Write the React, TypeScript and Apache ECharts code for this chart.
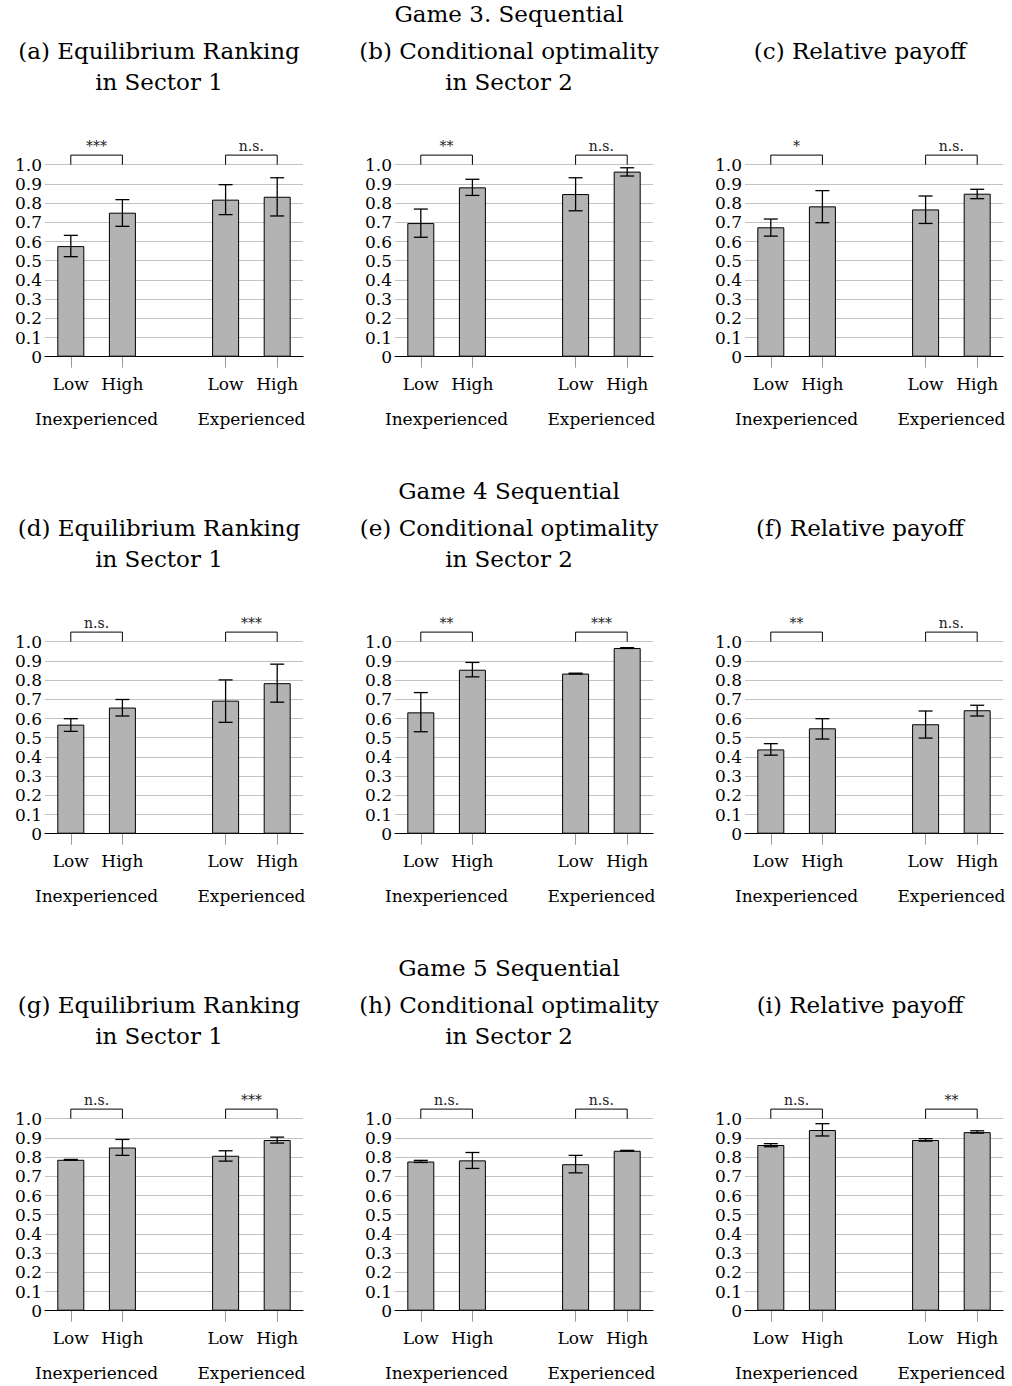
import React, { useEffect, useRef } from 'react';
import * as echarts from 'echarts';

// ---------- data ----------
const categories = ['Low', 'High', '', 'Low', 'High'];
const barSlots = [0, 1, 3, 4];
const groupLabels = ['Inexperienced', 'Experienced'];
const groupSpans = [[0, 1], [3, 4]];

const gameTitles = ['Game 3. Sequential', 'Game 4 Sequential', 'Game 5 Sequential'];
const panelTitleLine1 = [
  '(a) Equilibrium Ranking', '(b) Conditional optimality', '(c) Relative payoff',
  '(d) Equilibrium Ranking', '(e) Conditional optimality', '(f) Relative payoff',
  '(g) Equilibrium Ranking', '(h) Conditional optimality', '(i) Relative payoff',
];
const panelTitleLine2 = [
  'in Sector 1', 'in Sector 2', '',
  'in Sector 1', 'in Sector 2', '',
  'in Sector 1', 'in Sector 2', '',
];

// order: Low/Inexp, High/Inexp, Low/Exp, High/Exp
const meanA = [0.576, 0.750, 0.818, 0.833];
const loA = [0.521, 0.679, 0.740, 0.733];
const hiA = [0.632, 0.818, 0.896, 0.932];
const sigA = ['***', 'n.s.'];

const meanB = [0.696, 0.882, 0.847, 0.964];
const loB = [0.622, 0.840, 0.760, 0.941];
const hiB = [0.769, 0.924, 0.932, 0.984];
const sigB = ['**', 'n.s.'];

const meanC = [0.674, 0.783, 0.767, 0.849];
const loC = [0.628, 0.698, 0.694, 0.823];
const hiC = [0.717, 0.865, 0.837, 0.872];
const sigC = ['*', 'n.s.'];

const meanD = [0.568, 0.657, 0.693, 0.784];
const loD = [0.533, 0.613, 0.580, 0.685];
const hiD = [0.599, 0.699, 0.801, 0.883];
const sigD = ['n.s.', '***'];

const meanE = [0.632, 0.854, 0.834, 0.967];
const loE = [0.531, 0.817, 0.832, 0.965];
const hiE = [0.735, 0.892, 0.836, 0.969];
const sigE = ['**', '***'];

const meanF = [0.439, 0.549, 0.570, 0.643];
const loF = [0.409, 0.493, 0.498, 0.613];
const hiF = [0.469, 0.599, 0.639, 0.669];
const sigF = ['**', 'n.s.'];

const meanG = [0.786, 0.850, 0.807, 0.889];
const loG = [0.784, 0.809, 0.779, 0.873];
const hiG = [0.788, 0.892, 0.833, 0.904];
const sigG = ['n.s.', '***'];

const meanH = [0.777, 0.783, 0.763, 0.833];
const loH = [0.772, 0.741, 0.718, 0.831];
const hiH = [0.783, 0.824, 0.809, 0.835];
const sigH = ['n.s.', 'n.s.'];

const meanI = [0.863, 0.941, 0.889, 0.930];
const loI = [0.854, 0.910, 0.883, 0.925];
const hiI = [0.870, 0.974, 0.896, 0.937];
const sigI = ['n.s.', '**'];

const panels = [
  { mean: meanA, lo: loA, hi: hiA, sig: sigA },
  { mean: meanB, lo: loB, hi: hiB, sig: sigB },
  { mean: meanC, lo: loC, hi: hiC, sig: sigC },
  { mean: meanD, lo: loD, hi: hiD, sig: sigD },
  { mean: meanE, lo: loE, hi: hiE, sig: sigE },
  { mean: meanF, lo: loF, hi: hiF, sig: sigF },
  { mean: meanG, lo: loG, hi: hiG, sig: sigG },
  { mean: meanH, lo: loH, hi: hiH, sig: sigH },
  { mean: meanI, lo: loI, hi: hiI, sig: sigI },
];

// ---------- layout ----------
const FONT = "'DejaVu Serif', serif";
const W = 1012;
const H = 1386;
const GRID_LEFT0 = 45;
const GRID_TOP0 = 164.7;
const COL_STEP = 350;
const ROW_STEP = 477;
const GRID_W = 258;
const GRID_H = 192;
const titleCenters = [159, 509, 860];

function buildOption() {
  const grid: any[] = [];
  const xAxis: any[] = [];
  const yAxis: any[] = [];
  const series: any[] = [];
  const graphic: any[] = [];

  gameTitles.forEach((t, r) => {
    graphic.push({
      type: 'text', x: 509, y: 14 + ROW_STEP * r,
      style: { text: t, fontSize: 23, fontFamily: FONT, fill: '#000', align: 'center', verticalAlign: 'middle' },
    });
  });

  panels.forEach((p, k) => {
    const row = Math.floor(k / 3);
    const col = k % 3;
    graphic.push({
      type: 'text', x: titleCenters[col], y: 51 + ROW_STEP * row,
      style: { text: panelTitleLine1[k], fontSize: 23, fontFamily: FONT, fill: '#000', align: 'center', verticalAlign: 'middle' },
    });
    if (panelTitleLine2[k]) {
      graphic.push({
        type: 'text', x: titleCenters[col], y: 82 + ROW_STEP * row,
        style: { text: panelTitleLine2[k], fontSize: 23, fontFamily: FONT, fill: '#000', align: 'center', verticalAlign: 'middle' },
      });
    }

    grid.push({
      left: GRID_LEFT0 + COL_STEP * col,
      top: GRID_TOP0 + ROW_STEP * row,
      width: GRID_W,
      height: GRID_H,
      containLabel: false,
    });
    xAxis.push({
      type: 'category',
      gridIndex: k,
      data: categories,
      boundaryGap: true,
      axisLine: { show: true, lineStyle: { color: '#000', width: 1.2 } },
      axisTick: {
        show: true, alignWithLabel: true, length: 11, inside: false,
        interval: (i: number) => categories[i] !== '',
        lineStyle: { color: '#999', width: 1 },
      },
      axisLabel: { interval: 0, fontSize: 17, fontFamily: FONT, color: '#000', margin: 19 },
      splitLine: { show: false },
    });
    yAxis.push({
      type: 'value',
      gridIndex: k,
      min: 0,
      max: 1,
      interval: 0.1,
      axisLine: { show: false },
      axisTick: { show: false },
      axisLabel: {
        fontSize: 17, lineHeight: 17, fontFamily: FONT, color: '#000', margin: 3,
        formatter: (v: number) => (Math.abs(v) < 1e-9 ? '0' : v.toFixed(1)),
      },
      splitLine: { show: true, lineStyle: { color: '#c2c2c2', width: 1 } },
    });

    const barData: any[] = categories.map(() => '-');
    barSlots.forEach((s, i) => { barData[s] = p.mean[i]; });
    series.push({
      type: 'bar',
      xAxisIndex: k,
      yAxisIndex: k,
      data: barData,
      barWidth: 27,
      z: 2,
      itemStyle: { color: '#b3b3b3', borderColor: '#000', borderWidth: 1 },
      silent: true,
    });

    series.push({
      type: 'custom',
      xAxisIndex: k,
      yAxisIndex: k,
      clip: false,
      silent: true,
      z: 5,
      data: barSlots.map((s, i) => [s, p.lo[i], p.hi[i]]),
      encode: { x: 0, y: [1, 2] },
      renderItem: (params: any, api: any) => {
        const x = api.value(0);
        const pLo = api.coord([x, api.value(1)]);
        const pHi = api.coord([x, api.value(2)]);
        const cap = 7;
        const st = { stroke: '#000', lineWidth: 1.3 };
        return {
          type: 'group',
          children: [
            { type: 'line', shape: { x1: pLo[0], y1: pLo[1], x2: pHi[0], y2: pHi[1] }, style: st },
            { type: 'line', shape: { x1: pLo[0] - cap, y1: pLo[1], x2: pLo[0] + cap, y2: pLo[1] }, style: st },
            { type: 'line', shape: { x1: pHi[0] - cap, y1: pHi[1], x2: pHi[0] + cap, y2: pHi[1] }, style: st },
          ],
        };
      },
    });

    const sig = p.sig;
    series.push({
      type: 'custom',
      xAxisIndex: k,
      yAxisIndex: k,
      clip: false,
      silent: true,
      z: 5,
      data: groupSpans.map((g) => [g[0], g[1]]),
      encode: { x: [0, 1] },
      renderItem: (params: any, api: any) => {
        const x1 = api.value(0);
        const x2 = api.value(1);
        const a = api.coord([x1, 1]);
        const b = api.coord([x2, 1]);
        const top = api.coord([x1, 1.05])[1];
        const baseY = api.coord([x1, 0])[1];
        const mid = (a[0] + b[0]) / 2;
        return {
          type: 'group',
          children: [
            {
              type: 'polyline',
              shape: { points: [[a[0], a[1]], [a[0], top], [b[0], top], [b[0], b[1]]] },
              style: { stroke: '#000', lineWidth: 1, fill: 'none' },
            },
            {
              type: 'text',
              x: mid, y: top - 2,
              style: { text: sig[params.dataIndex], fontSize: 14, fontFamily: FONT, fill: '#222', align: 'center', verticalAlign: 'bottom' },
            },
            {
              type: 'text',
              x: mid, y: baseY + 62,
              style: { text: groupLabels[params.dataIndex], fontSize: 17, fontFamily: FONT, fill: '#000', align: 'center', verticalAlign: 'middle' },
            },
          ],
        };
      },
    });
  });

  return {
    animation: false,
    backgroundColor: '#fff',
    grid,
    xAxis,
    yAxis,
    series,
    graphic,
  };
}

export default function App() {
  const ref = useRef<HTMLDivElement>(null);
  useEffect(() => {
    document.body.style.margin = '0';
    if (!ref.current) return;
    const chart = echarts.init(ref.current, null, { renderer: 'svg' });
    chart.setOption(buildOption() as any);
    return () => chart.dispose();
  }, []);
  return <div ref={ref} style={{ width: W, height: H, background: '#fff' }} />;
}
